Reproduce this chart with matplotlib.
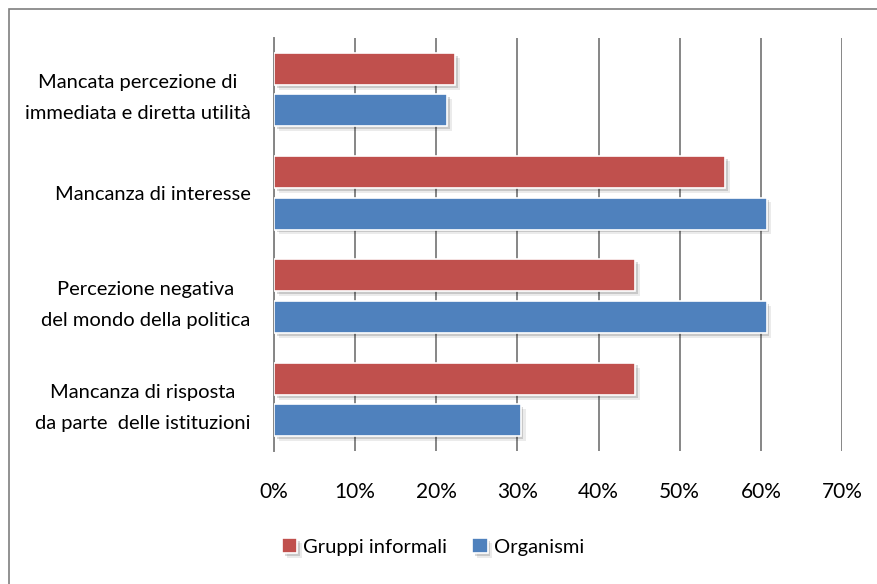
import matplotlib
matplotlib.use("Agg")
import matplotlib.pyplot as plt
import matplotlib.patheffects as pe
from matplotlib.patches import Rectangle
from matplotlib.ticker import FuncFormatter
import numpy as np

categories = [
    "Mancata percezione di\nimmediata e diretta utilità",
    "Mancanza di interesse",
    "Percezione negativa\ndel mondo della politica",
    "Mancanza di risposta\nda parte  delle istituzioni",
]
gruppi_informali = [22.3, 55.6, 44.5, 44.5]
organismi = [21.3, 60.7, 60.7, 30.4]
xticks = [0, 10, 20, 30, 40, 50, 60, 70]

RED = "#C0504D"
BLUE = "#4F81BD"
GRID = "#868686"

plt.rcParams['font.family'] = ['Lato', 'DejaVu Sans']

fig = plt.figure(figsize=(8.77, 5.84), dpi=100)
ax = fig.add_axes([274/877, 1-451/584, (842-274)/877, (451-38)/584])

n = len(categories)
ypos = np.arange(n)[::-1]
h = 0.31
off = 0.2
shadow = [pe.SimplePatchShadow(offset=(3.5, -3.5), shadow_rgbFace='black', alpha=0.08),
          pe.SimplePatchShadow(offset=(2.0, -2.0), shadow_rgbFace='black', alpha=0.15),
          pe.Normal()]
b1 = ax.barh(ypos + off, gruppi_informali, height=h, color=RED, edgecolor='white', linewidth=1.2,
             label="Gruppi informali", zorder=3)
b2 = ax.barh(ypos - off, organismi, height=h, color=BLUE, edgecolor='white', linewidth=1.2,
             label="Organismi", zorder=3)
for b in list(b1) + list(b2):
    b.set_path_effects(shadow)

ax.set_xlim(0, 70)
ax.set_ylim(-0.5, n - 0.5)
ax.set_xticks(xticks)
ax.xaxis.set_major_formatter(FuncFormatter(lambda v, p: f"{int(v)}%"))
ax.grid(axis='x', color=GRID, linewidth=1.4, zorder=0)
ax.set_axisbelow(True)
for s in ['top', 'right', 'bottom']:
    ax.spines[s].set_visible(False)
ax.spines['left'].set_color(GRID)
ax.spines['left'].set_linewidth(1.4)
ax.tick_params(axis='x', length=0, pad=22, labelsize=15)
ax.tick_params(axis='y', length=0, pad=17, labelsize=14.5)
ax.set_yticks(ypos)
ax.set_yticklabels(categories, multialignment='center', linespacing=2.0)

leg = fig.legend(handles=[b1, b2], labels=["Gruppi informali", "Organismi"], loc='center',
                 bbox_to_anchor=(433/877, 1-547/584), ncol=2, frameon=False, fontsize=14.5,
                 handlelength=0.75, handleheight=0.75, handletextpad=0.3, columnspacing=1.25)

fig.patches.append(Rectangle((9/877, -0.1), 1.2, 1 - 9/584 + 0.1, transform=fig.transFigure,
                             fill=False, edgecolor='#7f7f7f', linewidth=1.2))

fig.savefig("out.png", dpi=100)
